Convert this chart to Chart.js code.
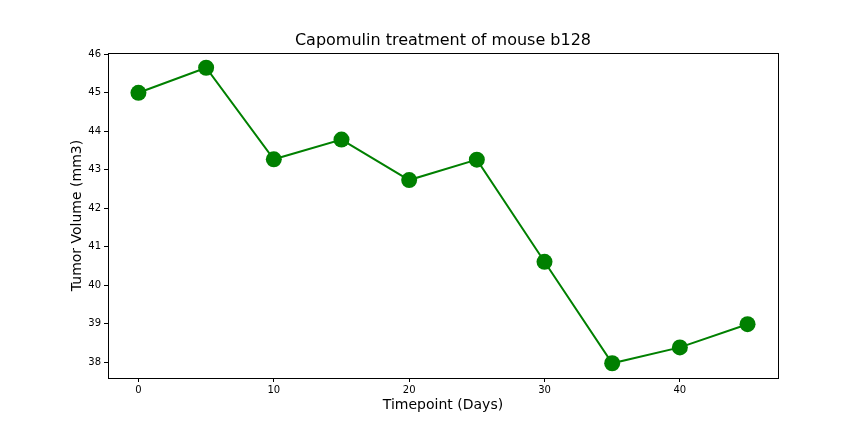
<!DOCTYPE html>
<html>
<head>
<meta charset="utf-8">
<script src="https://cdn.jsdelivr.net/npm/chart.js@4/dist/chart.umd.min.js"></script>
<style>
  html, body { margin: 0; padding: 0; background: #fff; }
  #wrap { width: 864px; height: 432px; }
</style>
</head>
<body>
<div id="wrap"><canvas id="c" width="864" height="432"></canvas></div>
<script>
const timepoints = [0, 5, 10, 15, 20, 25, 30, 35, 40, 45];
const tumorVolume = [45.0, 45.651331, 43.270852, 43.784893, 42.731552, 43.262145, 40.605335, 37.967644, 38.379726, 38.982878];
const chartTitle = 'Capomulin treatment of mouse b128';
const xLabel = 'Timepoint (Days)';
const yLabel = 'Tumor Volume (mm3)';

const FONT = "'DejaVu Sans', sans-serif";

const frame = {
  id: 'frame',
  afterDraw(chart) {
    const {ctx, chartArea: a} = chart;
    ctx.save();
    ctx.strokeStyle = '#000';
    ctx.lineWidth = 1;
    ctx.strokeRect(Math.round(a.left) + 0.5, Math.round(a.top) + 0.5, Math.round(a.right - a.left), Math.round(a.bottom - a.top));
    // title centred over the plot area
    ctx.fillStyle = '#000';
    ctx.font = "16px " + FONT;
    ctx.textAlign = 'center';
    ctx.textBaseline = 'middle';
    ctx.fillText(chartTitle, (a.left + a.right) / 2, a.top - 12);
    ctx.restore();
  }
};

new Chart(document.getElementById('c'), {
  type: 'line',
  data: {
    datasets: [{
      data: timepoints.map((t, i) => ({x: t, y: tumorVolume[i]})),
      borderColor: '#008000',
      backgroundColor: '#008000',
      pointBackgroundColor: '#008000',
      pointBorderColor: '#008000',
      borderWidth: 2,
      pointRadius: 8,
      pointBorderWidth: 0,
      tension: 0
    }]
  },
  options: {
    responsive: false,
    animation: false,
    devicePixelRatio: 1,
    layout: { padding: { left: 0, right: 86, top: 53, bottom: 0 } },
    plugins: {
      legend: { display: false },
      tooltip: { enabled: false },
      title: { display: false }
    },
    scales: {
      x: {
        type: 'linear',
        min: -2.25,
        max: 47.25,
        afterFit(s) { s.height = 54; },
        afterBuildTicks(s) { s.ticks = [0,10,20,30,40].map(v => ({value: v})); },
        ticks: { color: '#000', font: { family: FONT, size: 10 }, padding: 2, maxRotation: 0 },
        grid: { drawOnChartArea: false, drawTicks: true, tickLength: 4, color: '#000' },
        border: { display: false },
        title: { display: true, text: xLabel, color: '#000', font: { family: FONT, size: 14 }, padding: { top: 0, bottom: 18.6 } }
      },
      y: {
        type: 'linear',
        min: 37.584,
        max: 46.035,
        afterFit(s) { s.width = 108; },
        afterBuildTicks(s) { s.ticks = [38,39,40,41,42,43,44,45,46].map(v => ({value: v})); },
        ticks: { color: '#000', font: { family: FONT, size: 10 }, padding: 3 },
        grid: { drawOnChartArea: false, drawTicks: true, tickLength: 4, color: '#000' },
        border: { display: false },
        title: { display: true, text: yLabel, color: '#000', font: { family: FONT, size: 14 }, padding: { top: 68.6, bottom: 0 } }
      }
    }
  },
  plugins: [frame]
});
</script>
</body>
</html>
